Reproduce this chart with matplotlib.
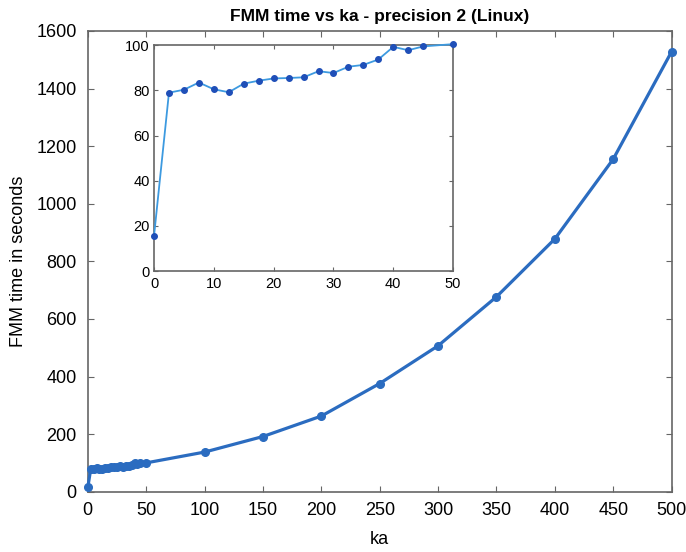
import matplotlib.pyplot as plt

plt.rcParams['font.family'] = ['Liberation Sans', 'DejaVu Sans']

# low-ka detail (also shown in the inset)
ka_low = [0, 2.5, 5, 7.5, 10, 12.5, 15, 17.5, 20, 22.5, 25, 27.5, 30,
          32.5, 35, 37.5, 40, 42.5, 45, 50]
t_low = [15.5, 79, 80.3, 83.5, 80.5, 79.2, 83, 84.3, 85.3, 85.5, 85.8, 88.5,
         87.7, 90.5, 91.3, 93.7, 99.3, 97.8, 99.5, 100.5]

ka_high = [100, 150, 200, 250, 300, 350, 400, 450, 500]
t_high = [138, 192, 263, 376, 507, 677, 878, 1155, 1528]

ka = ka_low + ka_high
t = t_low + t_high

spine_col = '#666666'

fig = plt.figure(figsize=(6.86, 5.52), dpi=100)
ax = fig.add_axes([0.128, 0.109, 0.851, 0.835])
ax.plot(ka, t, '-o', color='#2b6cc0', lw=2.3, ms=5.5, clip_on=False, zorder=3)
ax.set_xlim(0, 500)
ax.set_ylim(0, 1600)
ax.set_xticks(range(0, 501, 50))
ax.set_yticks(range(0, 1601, 200))
ax.set_xlabel('ka', fontsize=13, labelpad=9)
ax.set_ylabel('FMM time in seconds', fontsize=13, labelpad=7)
ax.set_title('FMM time vs ka - precision 2 (Linux)', fontsize=12.5,
             fontweight='bold', pad=7)
ax.tick_params(direction='in', labelsize=13, length=4, color=spine_col,
               top=True, right=True)
ax.tick_params(axis='x', pad=7)
ax.tick_params(axis='y', pad=8)
for s in ax.spines.values():
    s.set_color(spine_col)
    s.set_linewidth(1.2)

# inset
axi = fig.add_axes([0.2245, 0.509, 0.436, 0.409])
axi.plot(ka_low, t_low, '-', color='#3d9ae0', lw=1.3, zorder=3, clip_on=False)
axi.plot(ka_low, t_low, 'o', color='#1f4fb8', ms=4, zorder=4, clip_on=False)
axi.set_xlim(0, 50)
axi.set_ylim(0, 100)
axi.set_xticks(range(0, 51, 10))
axi.set_yticks(range(0, 101, 20))
axi.tick_params(direction='in', labelsize=10.5, length=3, color=spine_col,
                top=True, right=True, pad=3)
axi.tick_params(axis='x', pad=4)
for s in axi.spines.values():
    s.set_color(spine_col)
    s.set_linewidth(1.2)

fig.savefig('out.png', dpi=100)
